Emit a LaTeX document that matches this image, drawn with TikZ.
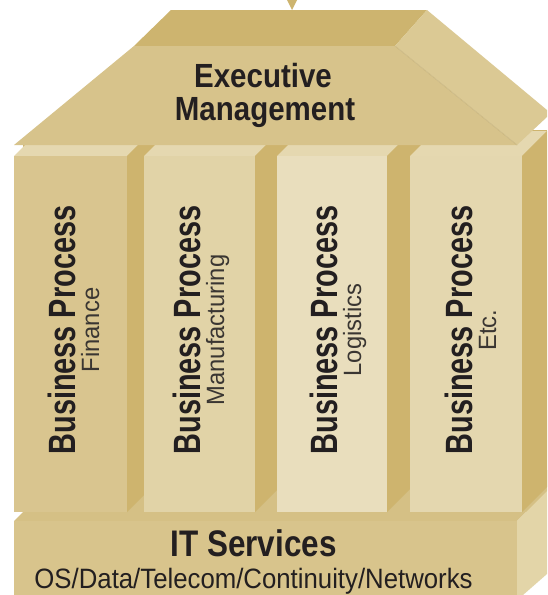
\documentclass[tikz,border=0pt]{standalone}
\usepackage{fontspec}
\setmainfont{Liberation Sans}
\newfontfamily\headfont{Liberation Sans}[FakeStretch=0.88]
\newfontfamily\pillarfont{Liberation Sans}[FakeStretch=0.76]
\newfontfamily\subfont{Liberation Sans}[FakeStretch=0.95]
\newfontfamily\itfont{Liberation Sans}[FakeStretch=0.85]
\newfontfamily\osfont{Liberation Sans}[FakeStretch=0.92]
\definecolor{ink}{HTML}{231F20}
\definecolor{subink}{HTML}{3A3632}
\definecolor{roofFront}{HTML}{D7C38B}
\definecolor{roofTop}{HTML}{CDB46F}
\definecolor{roofSide}{HTML}{DBC994}
\definecolor{pilSide}{HTML}{CEB46E}
\definecolor{pilTop}{HTML}{E5D8B0}
\definecolor{pilA}{HTML}{D9C58F}
\definecolor{pilB}{HTML}{E1D3A7}
\definecolor{pilC}{HTML}{E9DEBD}
\definecolor{pilD}{HTML}{E4D7AF}
\definecolor{baseFront}{HTML}{D8C48C}
\definecolor{baseTop}{HTML}{D5C085}
\definecolor{baseSide}{HTML}{E3D5A8}
\tikzset{
  face/.style={draw=none},
  labeltext/.style={text=ink, inner sep=0pt},
  headtext/.style={labeltext, font=\headfont\bfseries\fontsize{33.5}{33}\selectfont},
  pillartitle/.style={labeltext, rotate=90, anchor=base, font=\pillarfont\bfseries\fontsize{38}{38}\selectfont},
  pillarsub/.style={labeltext, text=subink, rotate=90, anchor=base, font=\subfont\fontsize{25}{25}\selectfont},
  ittext/.style={labeltext, anchor=base, font=\itfont\bfseries\fontsize{37}{37}\selectfont},
  ostext/.style={labeltext, anchor=base, font=\osfont\fontsize{28}{28}\selectfont},
}
\begin{document}
\begin{tikzpicture}[x=1pt,y=-1pt]
\useasboundingbox (0,0) rectangle (547,595);
\fill[white] (0,0) rectangle (547,595);

\begin{scope}
\clip (0,145) -- (517,145) -- (547,115) -- (547,595) -- (0,595) -- cycle;
% ---- back wall behind the pillars ----
\fill[face, pilSide] (23,130) rectangle (547,512);

% ---- base (IT services) ----
\fill[face, baseTop] (14,521) -- (517,521) -- (547,491) -- (547,470) -- (23,470) -- (23,512) -- cycle;
\fill[face, baseSide] (517,521) -- (547,491) -- (547,574) -- (523,595) -- (517,595) -- cycle;
\fill[face, baseFront] (14,521) rectangle (517,595);

% ---- pillars ----
\foreach \xl/\xr/\d/\col in {14/127/17/pilA, 144/255/22/pilB, 277/387/23/pilC, 410/522/25/pilD}{
  \fill[face, pilTop] (\xl,156) -- (\xr,156) -- ({\xr+\d},{156-\d}) -- ({\xl+\d},{156-\d}) -- cycle;
  \fill[face, pilSide] (\xr,512) -- (\xr,156) -- ({\xr+\d},{156-\d}) -- ({\xr+\d},{512-\d}) -- cycle;
  \fill[face, \col] (\xl,156) rectangle (\xr,512);
}
\end{scope}

% ---- roof ----
\fill[face, roofTop] (171,10) -- (427,10) -- (395,46) -- (134,46) -- cycle;
\fill[face, roofSide] (395,46) -- (427,10) -- (547,110) -- (547,117) -- (517,145) -- cycle;
\fill[face, roofFront] (134,46) -- (395,46) -- (517,145) -- (14,145) -- cycle;
\draw[roofTop!80!black, opacity=0.25, line width=0.8pt] (395,46) -- (517,145);
\fill[face, roofTop] (287,0) -- (297,0) -- (292,10) -- cycle;

% ---- labels ----
\node[headtext, anchor=base] (execA) at (263,87) {Executive};
\node[headtext, anchor=base] (execB) at (265,120) {Management};

\node[pillartitle] (bpA) at (75,330) {Business Process};
\node[pillarsub]   (subA) at (99,330) {Finance};
\node[pillartitle] (bpB) at (200,330) {Business Process};
\node[pillarsub]   (subB) at (224,330) {Manufacturing};
\node[pillartitle] (bpC) at (337,330) {Business Process};
\node[pillarsub]   (subC) at (361,330) {Logistics};
\node[pillartitle] (bpD) at (472,330) {Business Process};
\node[pillarsub]   (subD) at (496,330) {Etc.};

\node[ittext] (itA) at (253.5,556) {IT Services};
\node[ostext] (itB) at (253.5,588) {OS/Data/Telecom/Continuity/Networks};
\end{tikzpicture}
\end{document}
